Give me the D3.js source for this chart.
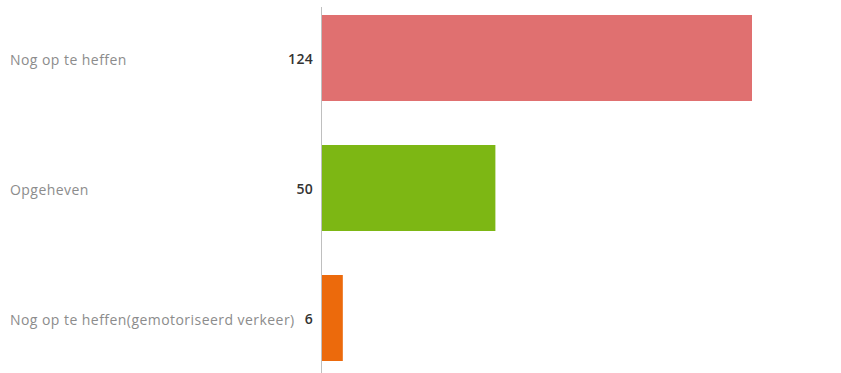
<!DOCTYPE html>
<html>
<head>
<meta charset="utf-8">
<script src="https://cdn.jsdelivr.net/npm/d3@7"></script>
<style>
  html, body { margin: 0; padding: 0; background: #fff; }
  svg { display: block; }
</style>
</head>
<body>
<svg id="chart" width="841" height="373"></svg>
<script>
const categories = ["Nog op te heffen", "Opgeheven", "Nog op te heffen(gemotoriseerd verkeer)"];
const values = [124, 50, 6];
const colors = ["#E07070", "#7DB714", "#EC6A0C"];

const svg = d3.select("#chart");
const axisX = 321.5;

const y = d3.scaleBand()
  .domain(categories)
  .range([15, 361])
  .paddingInner(44 / 130)
  .paddingOuter(0);

const x = d3.scaleLinear()
  .domain([0, 124])
  .range([axisX + 0.5, 752]);

// bars
svg.selectAll("rect.bar")
  .data(categories)
  .join("rect")
  .attr("class", "bar")
  .attr("x", x(0))
  .attr("y", d => y(d))
  .attr("width", (d, i) => x(values[i]) - x(0))
  .attr("height", y.bandwidth())
  .attr("fill", (d, i) => colors[i]);

// vertical axis line
svg.append("line")
  .attr("x1", axisX).attr("x2", axisX)
  .attr("y1", 7).attr("y2", 373)
  .attr("stroke", "#bfbfbf")
  .attr("stroke-width", 1);

// category labels
svg.selectAll("text.cat")
  .data(categories)
  .join("text")
  .attr("class", "cat")
  .attr("x", 10)
  .attr("y", d => y(d) + y.bandwidth() / 2 + 2.5)
  .attr("dy", "0.35em")
  .attr("font-family", "Open Sans, sans-serif")
  .attr("font-size", 14)
  .attr("letter-spacing", 0.45)
  .attr("fill", "#8c8c8c")
  .text(d => d);

// value labels
svg.selectAll("text.val")
  .data(categories)
  .join("text")
  .attr("class", "val")
  .attr("x", 313)
  .attr("y", d => y(d) + y.bandwidth() / 2 + 1.5)
  .attr("dy", "0.35em")
  .attr("text-anchor", "end")
  .attr("font-family", "Open Sans, sans-serif")
  .attr("font-size", 14)
  .attr("font-weight", 600)
  .attr("letter-spacing", 0.3)
  .attr("fill", "#333")
  .text((d, i) => values[i]);
</script>
</body>
</html>
